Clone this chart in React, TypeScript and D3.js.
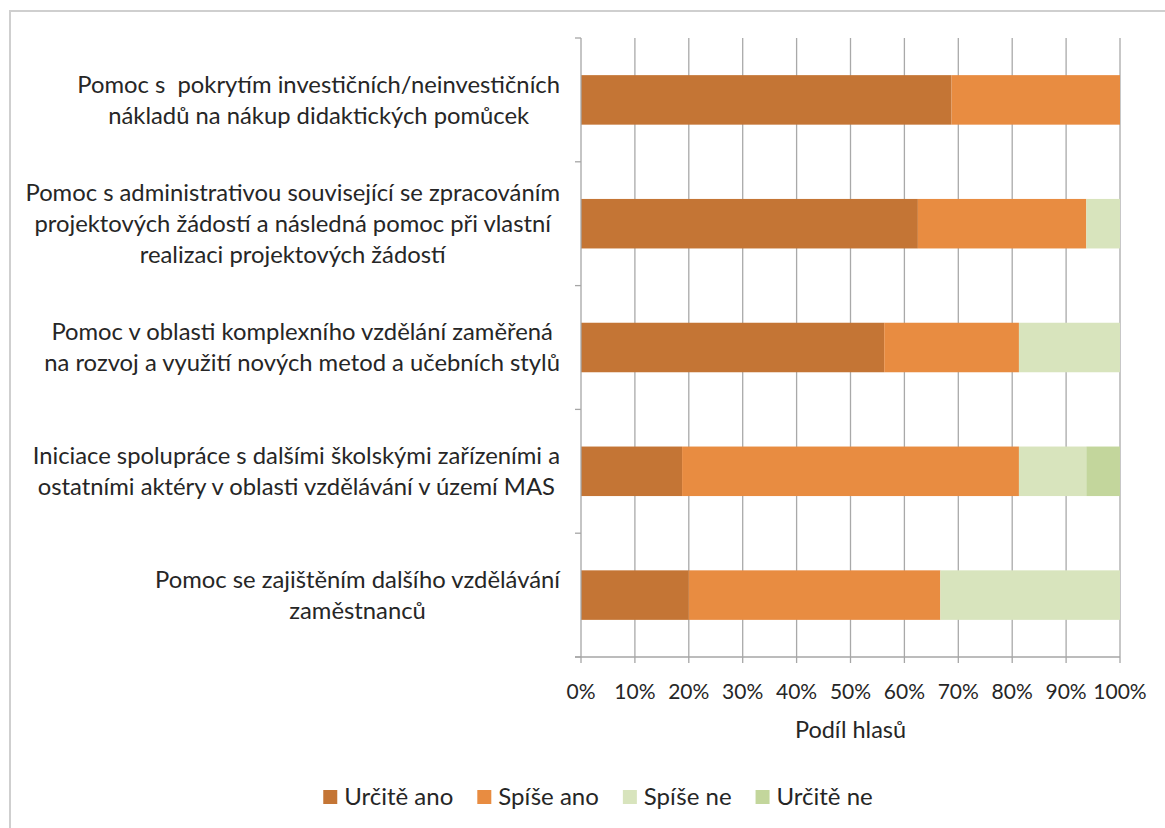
import { useEffect, useRef } from 'react';
import * as d3 from 'd3';

// kategorie (řádky popisků jsou zalomené ručně jako v originálu)
const categories: string[][] = [
  ['Pomoc s  pokrytím investičních/neinvestičních', 'nákladů na nákup didaktických pomůcek'],
  [
    'Pomoc s administrativou související se zpracováním',
    'projektových žádostí a následná pomoc při vlastní',
    'realizaci projektových žádostí',
  ],
  ['Pomoc v oblasti komplexního vzdělání zaměřená', 'na rozvoj a využití nových metod a učebních stylů'],
  ['Iniciace spolupráce s dalšími školskými zařízeními a', 'ostatními aktéry v oblasti vzdělávání v území MAS'],
  ['Pomoc se zajištěním dalšího vzdělávání', 'zaměstnanců'],
];

const seriesNames = ['Určitě ano', 'Spíše ano', 'Spíše ne', 'Určitě ne'];
const urciteAno = [68.75, 62.5, 56.25, 18.75, 20];
const spiseAno = [31.25, 31.25, 25, 62.5, 46.67];
const spiseNe = [0, 6.25, 18.75, 12.5, 33.33];
const urciteNe = [0, 0, 0, 6.25, 0];
const xTicks = [0, 10, 20, 30, 40, 50, 60, 70, 80, 90, 100];
const colors = ['#C47535', '#E88C41', '#D8E4BD', '#C3D69C'];

const FONT = 'Lato, "Open Sans", sans-serif';

export default function App() {
  const ref = useRef<SVGSVGElement | null>(null);

  useEffect(() => {
    if (!ref.current) return;
    const width = 1165;
    const height = 828;
    const svg = d3.select(ref.current);
    svg.selectAll('*').remove();

    const left = 581;
    const right = 1120;
    const top = 38;
    const bottom = 657;

    // rámeček grafu
    svg
      .append('rect')
      .attr('x', 10)
      .attr('y', 11)
      .attr('width', width + 20)
      .attr('height', height + 20)
      .attr('fill', 'white')
      .attr('stroke', '#CFCFCF')
      .attr('stroke-width', 2);

    const x = d3.scaleLinear().domain([0, 100]).range([left, right]);
    const y = d3
      .scaleBand<number>()
      .domain(categories.map((_, i) => i))
      .range([top, bottom])
      .paddingInner(0.6)
      .paddingOuter(0.3);
    const bandStep = (bottom - top) / categories.length;

    // svislá mřížka
    svg
      .append('g')
      .selectAll('line')
      .data(xTicks.slice(1))
      .enter()
      .append('line')
      .attr('x1', (d) => x(d))
      .attr('x2', (d) => x(d))
      .attr('y1', top)
      .attr('y2', bottom)
      .attr('stroke', '#A9A9A9')
      .attr('stroke-width', 1.3);

    // skládané pruhy
    const rows = categories.map((_, i) => ({
      idx: i,
      v0: urciteAno[i],
      v1: spiseAno[i],
      v2: spiseNe[i],
      v3: urciteNe[i],
    }));
    const stack = d3.stack<any>().keys(['v0', 'v1', 'v2', 'v3']);
    const stacked = stack(rows);

    svg
      .append('g')
      .selectAll('g')
      .data(stacked)
      .enter()
      .append('g')
      .attr('fill', (_, i) => colors[i])
      .selectAll('rect')
      .data((d) => d)
      .enter()
      .append('rect')
      .attr('x', (d) => x(d[0]))
      .attr('width', (d) => Math.max(0, x(d[1]) - x(d[0])))
      .attr('y', (d: any) => y(d.data.idx) as number)
      .attr('height', y.bandwidth());

    // osa Y
    const axisColor = '#A6A6A6';
    svg
      .append('line')
      .attr('x1', left)
      .attr('x2', left)
      .attr('y1', top)
      .attr('y2', bottom)
      .attr('stroke', axisColor)
      .attr('stroke-width', 1.3);
    svg
      .append('g')
      .selectAll('line')
      .data(d3.range(categories.length + 1))
      .enter()
      .append('line')
      .attr('x1', left - 6)
      .attr('x2', left)
      .attr('y1', (d) => top + d * bandStep)
      .attr('y2', (d) => top + d * bandStep)
      .attr('stroke', axisColor)
      .attr('stroke-width', 1.3);

    // osa X
    svg
      .append('line')
      .attr('x1', left - 6)
      .attr('x2', right)
      .attr('y1', bottom)
      .attr('y2', bottom)
      .attr('stroke', axisColor)
      .attr('stroke-width', 1.3);
    svg
      .append('g')
      .selectAll('line')
      .data(xTicks)
      .enter()
      .append('line')
      .attr('x1', (d) => x(d))
      .attr('x2', (d) => x(d))
      .attr('y1', bottom)
      .attr('y2', bottom + 6)
      .attr('stroke', axisColor)
      .attr('stroke-width', 1.3);

    const textColor = '#262626';
    svg
      .append('g')
      .selectAll('text')
      .data(xTicks)
      .enter()
      .append('text')
      .attr('x', (d) => x(d))
      .attr('y', 692)
      .attr('dy', '0.35em')
      .attr('text-anchor', 'middle')
      .style('font-family', FONT)
      .style('font-size', '21px')
      .style('fill', textColor)
      .text((d) => `${d}%`);

    svg
      .append('text')
      .attr('x', (left + right) / 2)
      .attr('y', 730)
      .attr('dy', '0.35em')
      .attr('text-anchor', 'middle')
      .style('font-family', FONT)
      .style('font-size', '23.5px')
      .style('fill', textColor)
      .text('Podíl hlasů');

    // popisky kategorií – vystředěné řádky, blok zarovnaný vpravo
    const lineH = 31;
    categories.forEach((lines, i) => {
      const cy = top + (i + 0.5) * bandStep;
      const g = svg.append('g');
      const texts = g
        .selectAll('text')
        .data(lines)
        .enter()
        .append('text')
        .attr('y', (_, j) => cy + (j - (lines.length - 1) / 2) * lineH)
        .attr('dy', '0.35em')
        .attr('text-anchor', 'middle')
        .style('font-family', FONT)
        .style('font-size', '23.8px')
        .style('white-space', 'pre')
        .style('fill', textColor)
        .text((d) => d);
      let maxW = 0;
      texts.each(function () {
        maxW = Math.max(maxW, (this as SVGTextElement).getComputedTextLength());
      });
      texts.attr('x', 560 - maxW / 2);
    });

    // legenda
    const legend = svg.append('g');
    const items = legend
      .selectAll('g')
      .data(seriesNames)
      .enter()
      .append('g');
    items
      .append('rect')
      .attr('width', 14)
      .attr('height', 14)
      .attr('y', 797 - 7)
      .attr('fill', (_, i) => colors[i]);
    items
      .append('text')
      .attr('x', 21)
      .attr('y', 797)
      .attr('dy', '0.35em')
      .style('font-family', FONT)
      .style('font-size', '24px')
      .style('fill', textColor)
      .text((d) => d);
    const gap = 24;
    let cursor = 0;
    const offsets: number[] = [];
    items.each(function () {
      const t = d3.select(this).select('text').node() as SVGTextElement;
      offsets.push(cursor);
      cursor += 21 + t.getComputedTextLength() + gap;
    });
    const totalW = cursor - gap;
    const startX = 598 - totalW / 2;
    items.attr('transform', (_, i) => `translate(${startX + offsets[i]},0)`);
  }, []);

  return (
    <svg
      ref={ref}
      width={1165}
      height={828}
      style={{ position: 'absolute', left: 0, top: 0, background: 'white' }}
    />
  );
}
